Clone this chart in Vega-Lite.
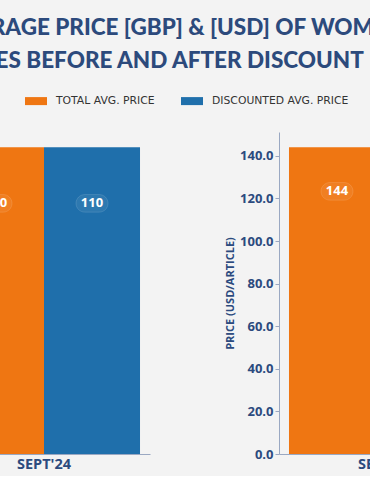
{
  "$schema": "https://vega.github.io/schema/vega-lite/v6.json",
  "background": "#f3f3f3",
  "padding": {"left": -117, "top": 16, "right": 0, "bottom": 5},
  "title": {
    "text": ["AVERAGE PRICE [GBP] & [USD] OF WOMEN'S ARTICLES", "SHOES BEFORE AND AFTER DISCOUNT"],
    "anchor": "start",
    "font": "Lato",
    "fontSize": 22.5,
    "fontWeight": 900,
    "color": "#2c4a7c",
    "lineHeight": 33,
    "offset": 18,
    "dx": 64
  },
  "datasets": {
    "prices": [
      {"currency": "GBP", "month": "SEPT'24", "series": "TOTAL AVG. PRICE", "value": 110},
      {"currency": "GBP", "month": "SEPT'24", "series": "DISCOUNTED AVG. PRICE", "value": 110},
      {"currency": "USD", "month": "SEPT'24", "series": "TOTAL AVG. PRICE", "value": 144},
      {"currency": "USD", "month": "SEPT'24", "series": "DISCOUNTED AVG. PRICE", "value": 144}
    ]
  },
  "config": {
    "view": {"stroke": null},
    "axis": {
      "labelFont": "Open Sans",
      "labelFontWeight": "bold",
      "labelColor": "#2b4a7e",
      "titleFont": "Open Sans",
      "titleFontWeight": "bold",
      "titleColor": "#2b4a7e",
      "domainColor": "#9aa8c2",
      "tickColor": "#9aa8c2",
      "grid": false
    },
    "legend": {
      "labelFont": "DejaVu Sans",
      "labelFontSize": 10.8,
      "labelColor": "#333333",
      "orient": "none",
      "legendX": 87,
      "legendY": -42,
      "direction": "horizontal",
      "title": null
    }
  },
  "spacing": 74,
  "hconcat": [
    {
      "width": 212,
      "height": 322,
      "data": {"name": "prices"},
      "transform": [{"filter": "datum.currency === 'GBP'"}],
      "encoding": {
        "x": {"field": "month", "type": "nominal", "scale": {"paddingOuter": 0.052, "paddingInner": 0}, "axis": {"title": null, "labelAngle": 0, "ticks": false, "labelFontSize": 14.5, "labelPadding": 3}},
        "xOffset": {"field": "series", "type": "nominal", "sort": ["TOTAL AVG. PRICE", "DISCOUNTED AVG. PRICE"], "scale": {"paddingInner": 0, "paddingOuter": 0}},
        "y": {"field": "value", "type": "quantitative", "scale": {"domain": [0, 115.5], "nice": false}, "axis": {"title": "PRICE (GBP/ARTICLE)", "format": ".1f", "values": [0, 20, 40, 60, 80, 100], "labelFontSize": 13, "titleFontSize": 11, "tickSize": 4}}
      },
      "layer": [
        {
          "mark": {"type": "bar"},
          "encoding": {
            "color": {"field": "series", "type": "nominal", "sort": ["TOTAL AVG. PRICE", "DISCOUNTED AVG. PRICE"], "scale": {"range": ["#ef7612", "#1f6fab"]},
              "legend": {"symbolType": "M-1,-0.364L1,-0.364L1,0.364L-1,0.364Z", "symbolSize": 484, "symbolStrokeWidth": 0, "labelOffset": 9, "columnPadding": 26}}
          }
        },
        {
          "mark": {"type": "point", "shape": "M-0.45,-0.55L0.45,-0.55A0.55,0.55 0 0 1 0.45,0.55L-0.45,0.55A0.55,0.55 0 0 1 -0.45,-0.55Z", "size": 1024, "filled": true, "fill": "white", "fillOpacity": 0.07, "stroke": "white", "strokeOpacity": 0.12, "strokeWidth": 1, "yOffset": 56},
          "encoding": {}
        },
        {
          "mark": {"type": "text", "color": "white", "font": "Open Sans", "fontWeight": "bold", "fontSize": 13, "dy": 56, "baseline": "middle"},
          "encoding": {"text": {"field": "value", "type": "quantitative"}}
        }
      ]
    },
    {
      "width": 212,
      "height": 322,
      "data": {"name": "prices"},
      "transform": [{"filter": "datum.currency === 'USD'"}],
      "encoding": {
        "x": {"field": "month", "type": "nominal", "scale": {"paddingOuter": 0.052, "paddingInner": 0}, "axis": {"title": null, "labelAngle": 0, "ticks": false, "labelFontSize": 14.5, "labelPadding": 3}},
        "xOffset": {"field": "series", "type": "nominal", "sort": ["TOTAL AVG. PRICE", "DISCOUNTED AVG. PRICE"], "scale": {"paddingInner": 0, "paddingOuter": 0}},
        "y": {"field": "value", "type": "quantitative", "scale": {"domain": [0, 151.2], "nice": false}, "axis": {"title": "PRICE (USD/ARTICLE)", "format": ".1f", "values": [0, 20, 40, 60, 80, 100, 120, 140], "labelFontSize": 13, "titleFontSize": 11, "tickSize": 4}}
      },
      "layer": [
        {
          "mark": {"type": "bar"},
          "encoding": {
            "color": {"field": "series", "type": "nominal", "sort": ["TOTAL AVG. PRICE", "DISCOUNTED AVG. PRICE"]}
          }
        },
        {
          "mark": {"type": "point", "shape": "M-0.45,-0.55L0.45,-0.55A0.55,0.55 0 0 1 0.45,0.55L-0.45,0.55A0.55,0.55 0 0 1 -0.45,-0.55Z", "size": 1024, "filled": true, "fill": "white", "fillOpacity": 0.07, "stroke": "white", "strokeOpacity": 0.12, "strokeWidth": 1, "yOffset": 44},
          "encoding": {}
        },
        {
          "mark": {"type": "text", "color": "white", "font": "Open Sans", "fontWeight": "bold", "fontSize": 13, "dy": 44, "baseline": "middle"},
          "encoding": {"text": {"field": "value", "type": "quantitative"}}
        }
      ]
    }
  ]
}
